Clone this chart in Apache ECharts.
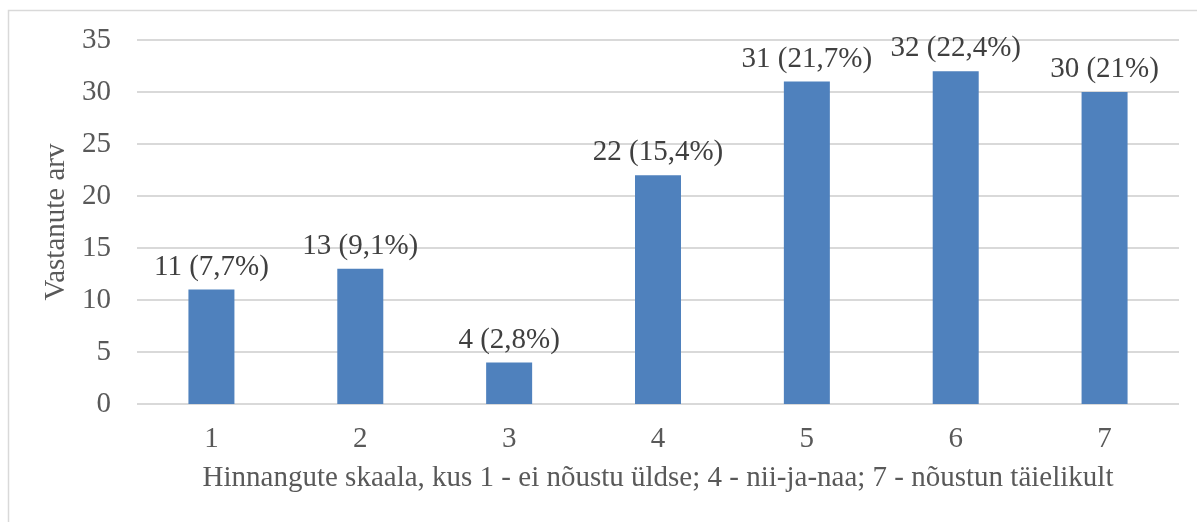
<!DOCTYPE html>
<html>
<head>
<meta charset="utf-8">
<script src="https://cdn.jsdelivr.net/npm/echarts@6/dist/echarts.min.js"></script>
<style>
  html, body { margin: 0; padding: 0; background: #fff; }
  #chart { width: 1197px; height: 522px; }
</style>
</head>
<body>
<div id="chart"></div>
<script>
// hinnangute skaala 1..7
const categories = ['1', '2', '3', '4', '5', '6', '7']
const counts = [11, 13, 4, 22, 31, 32, 30]
const percents = ['7,7', '9,1', '2,8', '15,4', '21,7', '22,4', '21']

const font = 'Liberation Serif, Times New Roman, serif'

const chart = echarts.init(document.getElementById('chart'))

chart.setOption({
  animation: false,
  graphic: [{
    type: 'rect',
    shape: {x: 8.5, y: 10.5, width: 1200, height: 530},
    style: {fill: 'none', stroke: '#d9d9d9', lineWidth: 1.5},
    silent: true
  }],
  grid: {left: 137, right: 18, top: 40, bottom: 118},
  xAxis: {
    type: 'category',
    data: categories,
    axisLine: {show: false},
    axisTick: {show: false},
    axisLabel: {fontFamily: font, fontSize: 29, color: '#595959', margin: 21},
    name: 'Hinnangute skaala, kus 1 - ei nõustu üldse; 4 - nii-ja-naa; 7 - nõustun täielikult',
    nameLocation: 'middle',
    nameGap: 60,
    nameTextStyle: {fontFamily: font, fontSize: 29, color: '#595959'}
  },
  yAxis: {
    type: 'value',
    min: 0,
    max: 35,
    interval: 5,
    axisLine: {show: false},
    axisTick: {show: false},
    splitLine: {lineStyle: {color: '#d9d9d9', width: 2}},
    axisLabel: {fontFamily: font, fontSize: 29, color: '#595959', margin: 26},
    name: 'Vastanute arv',
    nameLocation: 'middle',
    nameGap: 62,
    nameTextStyle: {fontFamily: font, fontSize: 29, color: '#595959'}
  },
  series: [{
    type: 'bar',
    data: counts,
    barWidth: 46,
    itemStyle: {color: '#4f81bd'},
    label: {
      show: true,
      position: 'top',
      distance: 8,
      fontFamily: font,
      fontSize: 29,
      color: '#404040',
      formatter: p => p.value + ' (' + percents[p.dataIndex] + '%)'
    }
  }]
})
</script>
</body>
</html>
